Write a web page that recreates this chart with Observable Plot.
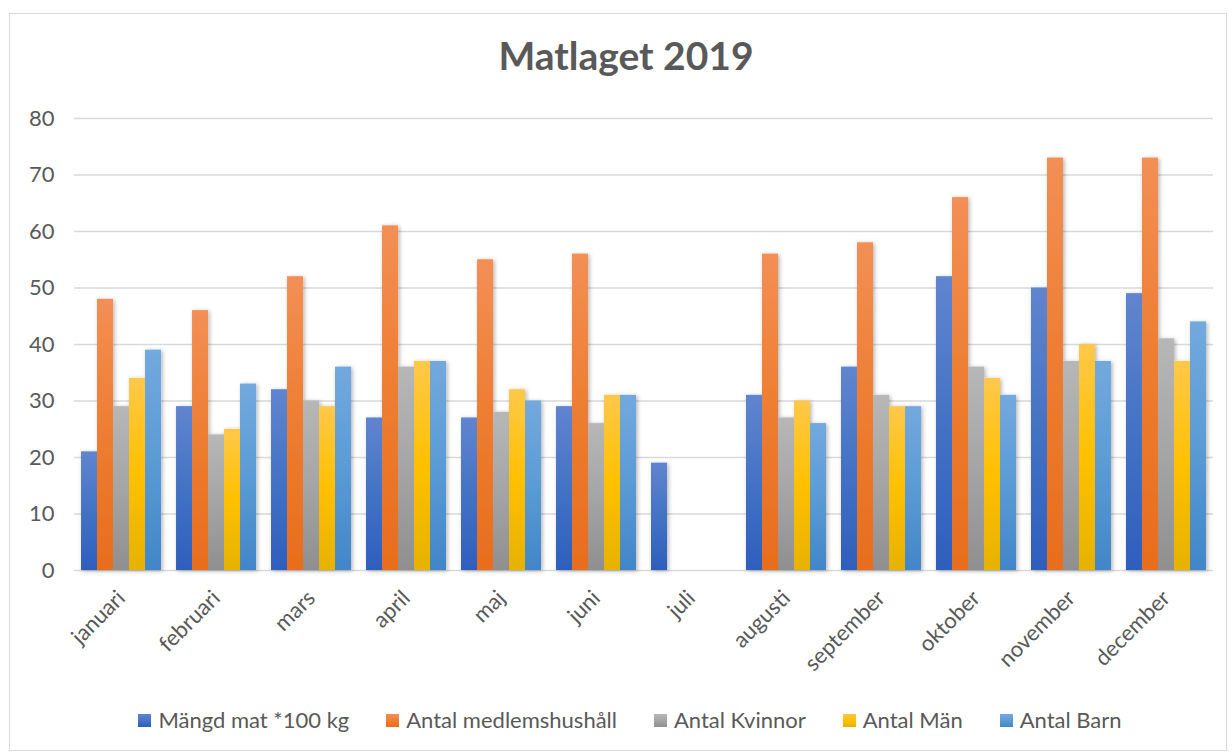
<!DOCTYPE html>
<html>
<head>
<meta charset="utf-8">
<script src="https://cdn.jsdelivr.net/npm/d3@7"></script>
<script src="https://cdn.jsdelivr.net/npm/@observablehq/plot@0.6"></script>
<style>
  html, body { margin: 0; padding: 0; background: #fff; }
  body { width: 1232px; height: 752px; position: relative; overflow: hidden; font-family: Lato, "Open Sans", sans-serif; }
  #frame { position: absolute; left: 9px; top: 13px; width: 1218px; height: 738px; box-sizing: border-box; border: 1px solid #d9d9d9; background: #fff; }
  #title { position: absolute; left: 0; top: 21px; width: 100%; box-sizing: border-box; padding-left: 16px; text-align: center; font-size: 39px; line-height: 40px; font-weight: bold; color: #595959; }
  .layer { position: absolute; left: 0; top: 86px; }
  #legend { position: absolute; left: 0; top: 693px; width: 100%; box-sizing: border-box; padding-left: 24px; display: flex; justify-content: center; gap: 37px; font-size: 22px; color: #595959; line-height: 26px; }
  .item { display: flex; align-items: center; }
  .sw { width: 13px; height: 13px; margin-right: 7px; }
</style>
</head>
<body>
<div id="frame">
  <div id="title">Matlaget 2019</div>
  <div id="grid" class="layer"></div>
  <div id="bars" class="layer"></div>
  <div id="legend"></div>
</div>
<script>
const months = ["januari","februari","mars","april","maj","juni","juli","augusti","september","oktober","november","december"];
const seriesNames = ["Mängd mat *100 kg","Antal medlemshushåll","Antal Kvinnor","Antal Män","Antal Barn"];
const mangdMat    = [21, 29, 32, 27, 27, 29, 19, 31, 36, 52, 50, 49];
const hushall     = [48, 46, 52, 61, 55, 56, null, 56, 58, 66, 73, 73];
const kvinnor     = [29, 24, 30, 36, 28, 26, null, 27, 31, 36, 37, 41];
const man         = [34, 25, 29, 37, 32, 31, null, 30, 29, 34, 40, 37];
const barn        = [39, 33, 36, 37, 30, 31, null, 26, 29, 31, 37, 44];
const yTicks = [0, 10, 20, 30, 40, 50, 60, 70, 80];

// gradient stops (top, middle, bottom) per series
const gradStops = [
  ["#6085cf", "#4472c4", "#2e5ebd"],
  ["#f38f55", "#ed7d31", "#e86d1d"],
  ["#b7b7b7", "#a5a5a5", "#8f8f8f"],
  ["#ffc84a", "#ffc000", "#e6b200"],
  ["#72a9de", "#5b9bd5", "#4186c8"]
];
const gradIds = gradStops.map((_, i) => `grad${i}`);

const allSeries = [mangdMat, hushall, kvinnor, man, barn];
const data = [];
months.forEach((m, i) => {
  allSeries.forEach((arr, s) => {
    if (arr[i] != null) data.push({month: m, series: seriesNames[s], value: arr[i]});
  });
});

const W = 1216, H = 570;
const margins = {marginLeft: 64, marginRight: 13, marginTop: 18, marginBottom: 100};
const font = "Lato, 'Open Sans', sans-serif";

const gridPlot = Plot.plot({
  width: W, height: H, ...margins,
  style: {fontFamily: font, fontSize: "22px", color: "#595959", background: "transparent"},
  y: {domain: [0, 80], ticks: yTicks, tickSize: 0, tickPadding: 20, label: null, tickFormat: d => d},
  marks: [
    Plot.ruleY(yTicks, {stroke: "#d9d9d9", strokeWidth: 1.3})
  ]
});
document.getElementById("grid").appendChild(gridPlot);

const barPlot = Plot.plot({
  width: W, height: H, ...margins,
  style: {fontFamily: font, fontSize: "22px", color: "#595959", background: "transparent", overflow: "visible"},
  fx: {domain: months, round: false, paddingInner: 0.158, paddingOuter: 0.074, tickRotate: -45, tickSize: 0, tickPadding: 24, label: null},
  x: {domain: seriesNames, axis: null, padding: 0, round: false},
  y: {domain: [0, 80], axis: null},
  color: {domain: seriesNames, range: gradIds.map(id => `url(#${id})`)},
  marks: [
    Plot.barY(data, {fx: "month", x: "series", y: "value", fill: "series"})
  ]
});

// gradient + shadow definitions
const ns = "http://www.w3.org/2000/svg";
const svgEl = barPlot.tagName.toLowerCase() === "svg" ? barPlot : barPlot.querySelector("svg");
const defs = document.createElementNS(ns, "defs");
gradStops.forEach((stops, i) => {
  const g = document.createElementNS(ns, "linearGradient");
  g.setAttribute("id", gradIds[i]);
  g.setAttribute("x1", "0"); g.setAttribute("y1", "0");
  g.setAttribute("x2", "0"); g.setAttribute("y2", "1");
  [[0, stops[0]], [0.5, stops[1]], [1, stops[2]]].forEach(([o, c]) => {
    const st = document.createElementNS(ns, "stop");
    st.setAttribute("offset", o);
    st.setAttribute("stop-color", c);
    g.appendChild(st);
  });
  defs.appendChild(g);
});
const filter = document.createElementNS(ns, "filter");
filter.setAttribute("id", "shadow");
filter.setAttribute("x", "-20%"); filter.setAttribute("y", "-5%");
filter.setAttribute("width", "140%"); filter.setAttribute("height", "110%");
const ds = document.createElementNS(ns, "feDropShadow");
ds.setAttribute("dx", "1.5"); ds.setAttribute("dy", "1"); ds.setAttribute("stdDeviation", "2");
ds.setAttribute("flood-color", "#000"); ds.setAttribute("flood-opacity", "0.3");
filter.appendChild(ds);
defs.appendChild(filter);
svgEl.insertBefore(defs, svgEl.firstChild);
svgEl.querySelectorAll('g[aria-label="bar"]').forEach(g => g.setAttribute("filter", "url(#shadow)"));
document.getElementById("bars").appendChild(barPlot);

// legend
const legend = document.getElementById("legend");
seriesNames.forEach((name, i) => {
  const item = document.createElement("div");
  item.className = "item";
  const sw = document.createElement("div");
  sw.className = "sw";
  sw.style.background = `linear-gradient(${gradStops[i][0]}, ${gradStops[i][1]}, ${gradStops[i][2]})`;
  const t = document.createElement("span");
  t.textContent = name;
  item.appendChild(sw); item.appendChild(t);
  legend.appendChild(item);
});
</script>
</body>
</html>
